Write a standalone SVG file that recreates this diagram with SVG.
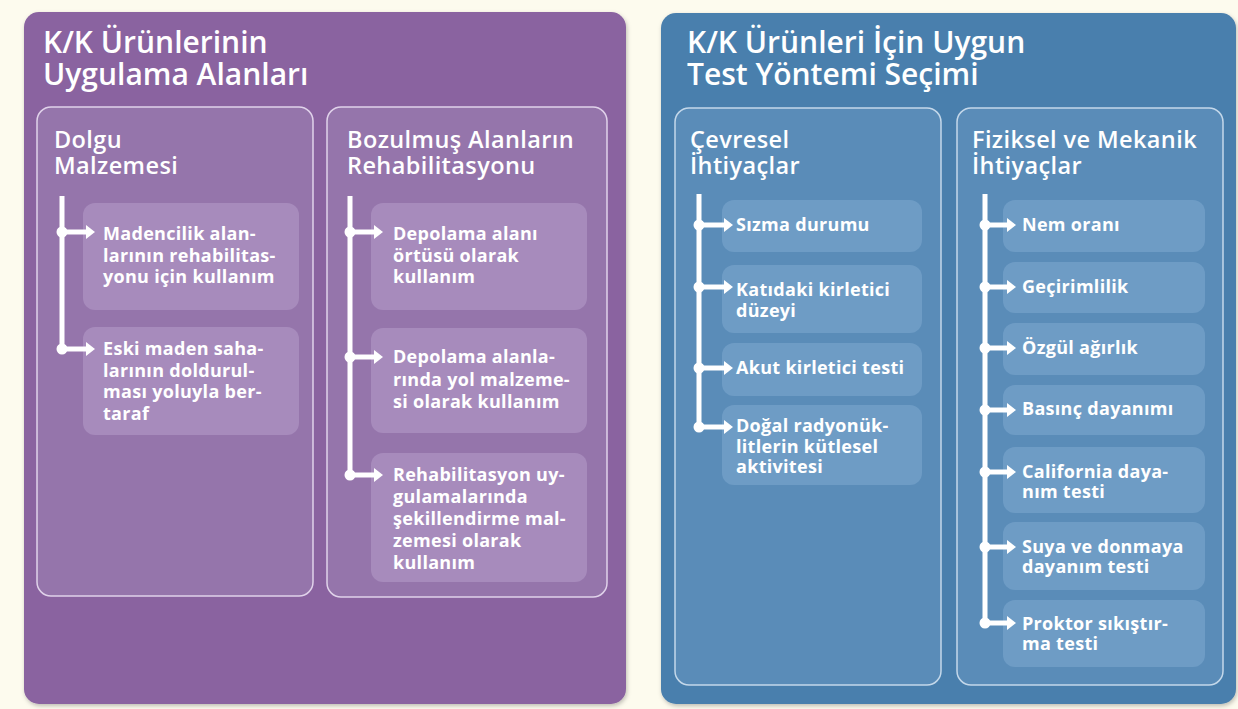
<svg xmlns="http://www.w3.org/2000/svg" width="1238" height="709" viewBox="0 0 1238 709">
<defs>
<style>
.bg{fill:#fdfbee}
.pL{fill:#8a63a0}
.pR{fill:#4a7fad}
.bL{fill:#9575ab;stroke:#e0d2ea;stroke-width:1.5}
.bR{fill:#5a8cb8;stroke:#c4d8ea;stroke-width:1.5}
.iL{fill:#a78bbc}
.iR{fill:#6e9cc5}
.t1{font-family:"Open Sans","DejaVu Sans",sans-serif;font-weight:600;font-size:30px;fill:#ffffff}
.t2{font-family:"Open Sans","DejaVu Sans",sans-serif;font-weight:600;font-size:23.5px;letter-spacing:0.4px;fill:#ffffff}
.t3{font-family:"Open Sans","DejaVu Sans",sans-serif;font-weight:700;font-size:18px;letter-spacing:0.3px;fill:#ffffff}
.vl{stroke:#ffffff;stroke-width:5;fill:none}
.ar{stroke:#ffffff;stroke-width:5;fill:none;marker-end:url(#head)}
.dot{fill:#ffffff}
</style>
<marker id="head" markerUnits="userSpaceOnUse" markerWidth="10" markerHeight="14" refX="0" refY="7" orient="auto">
<path d="M0,0 L9,7 L0,14 z" fill="#ffffff"/>
</marker>
<filter id="sh" x="-5%" y="-5%" width="110%" height="110%">
<feDropShadow dx="1" dy="2" stdDeviation="2" flood-color="#000" flood-opacity="0.25"/>
</filter>
</defs>
<rect class="bg" x="0" y="0" width="1238" height="709"/>

<g id="panel-left">
<rect class="pL" x="24" y="12" width="602" height="692" rx="15" filter="url(#sh)"/>
<text class="t1" x="43" y="53">K/K Ürünlerinin</text>
<text class="t1" x="43" y="85">Uygulama Alanları</text>
</g>
<g id="panel-right">
<rect class="pR" x="661" y="13" width="575" height="691" rx="15" filter="url(#sh)"/>
<text class="t1" x="687" y="53">K/K Ürünleri İçin Uygun</text>
<text class="t1" x="687" y="85">Test Yöntemi Seçimi</text>
</g>

<g id="box-dolgu">
<rect class="bL" x="37" y="107" width="276" height="489" rx="14"/>
<text class="t2" x="54" y="148">Dolgu</text>
<text class="t2" x="54" y="174">Malzemesi</text>
</g>
<g id="box-bozulmus">
<rect class="bL" x="327" y="107" width="280" height="490" rx="14"/>
<text class="t2" x="347" y="148">Bozulmuş Alanların</text>
<text class="t2" x="347" y="174">Rehabilitasyonu</text>
</g>
<g id="box-cevresel">
<rect class="bR" x="675" y="108" width="266" height="577" rx="14"/>
<text class="t2" x="690" y="148">Çevresel</text>
<text class="t2" x="690" y="174">İhtiyaçlar</text>
</g>
<g id="box-fiziksel">
<rect class="bR" x="957" y="108" width="266" height="577" rx="14"/>
<text class="t2" x="972" y="148">Fiziksel ve Mekanik</text>
<text class="t2" x="972" y="174">İhtiyaçlar</text>
</g>

<g id="item-madencilik">
<rect class="iL" x="83" y="203" width="216" height="107" rx="12"/>
<text class="t3" x="103" y="240"><tspan x="103">Madencilik alan-</tspan><tspan x="103" dy="21.5">larının rehabilitas-</tspan><tspan x="103" dy="21.5">yonu için kullanım</tspan></text>
</g>
<g id="item-eski">
<rect class="iL" x="83" y="327" width="216" height="108" rx="12"/>
<text class="t3" x="103" y="355"><tspan x="103">Eski maden saha-</tspan><tspan x="103" dy="21.7">larının doldurul-</tspan><tspan x="103" dy="21.7">ması yoluyla ber-</tspan><tspan x="103" dy="21.7">taraf</tspan></text>
</g>
<g id="item-depolama1">
<rect class="iL" x="371" y="203" width="216" height="107" rx="12"/>
<text class="t3" x="393" y="240"><tspan x="393">Depolama alanı</tspan><tspan x="393" dy="21.5">örtüsü olarak</tspan><tspan x="393" dy="21.5">kullanım</tspan></text>
</g>
<g id="item-depolama2">
<rect class="iL" x="371" y="328" width="216" height="105" rx="12"/>
<text class="t3" x="393" y="363"><tspan x="393">Depolama alanla-</tspan><tspan x="393" dy="22.5">rında yol malzeme-</tspan><tspan x="393" dy="22.5">si olarak kullanım</tspan></text>
</g>
<g id="item-rehab">
<rect class="iL" x="371" y="453" width="216" height="129" rx="12"/>
<text class="t3" x="393" y="481"><tspan x="393">Rehabilitasyon uy-</tspan><tspan x="393" dy="22">gulamalarında</tspan><tspan x="393" dy="22">şekillendirme mal-</tspan><tspan x="393" dy="22">zemesi olarak</tspan><tspan x="393" dy="22">kullanım</tspan></text>
</g>
<g id="item-sizma">
<rect class="iR" x="722" y="200" width="200" height="52" rx="12"/>
<text class="t3" x="736" y="231">Sızma durumu</text>
</g>
<g id="item-katidaki">
<rect class="iR" x="722" y="265" width="200" height="68" rx="12"/>
<text class="t3" x="736" y="296"><tspan x="736">Katıdaki kirletici</tspan><tspan x="736" dy="21">düzeyi</tspan></text>
</g>
<g id="item-akut">
<rect class="iR" x="722" y="343" width="200" height="53" rx="12"/>
<text class="t3" x="736" y="374">Akut kirletici testi</text>
</g>
<g id="item-dogal">
<rect class="iR" x="722" y="405" width="200" height="80" rx="12"/>
<text class="t3" x="736" y="432"><tspan x="736">Doğal radyonük-</tspan><tspan x="736" dy="20.5">litlerin kütlesel</tspan><tspan x="736" dy="20.5">aktivitesi</tspan></text>
</g>
<g id="item-nem">
<rect class="iR" x="1003" y="200" width="202" height="52" rx="12"/>
<text class="t3" x="1022" y="231">Nem oranı</text>
</g>
<g id="item-gecirimlilik">
<rect class="iR" x="1003" y="262" width="202" height="51" rx="12"/>
<text class="t3" x="1022" y="293">Geçirimlilik</text>
</g>
<g id="item-ozgul">
<rect class="iR" x="1003" y="323" width="202" height="52" rx="12"/>
<text class="t3" x="1022" y="354">Özgül ağırlık</text>
</g>
<g id="item-basinc">
<rect class="iR" x="1003" y="385" width="202" height="50" rx="12"/>
<text class="t3" x="1022" y="415">Basınç dayanımı</text>
</g>
<g id="item-california">
<rect class="iR" x="1003" y="447" width="202" height="66" rx="12"/>
<text class="t3" x="1022" y="478"><tspan x="1022">California daya-</tspan><tspan x="1022" dy="20">nım testi</tspan></text>
</g>
<g id="item-suya">
<rect class="iR" x="1003" y="522" width="202" height="68" rx="12"/>
<text class="t3" x="1022" y="553"><tspan x="1022">Suya ve donmaya</tspan><tspan x="1022" dy="20">dayanım testi</tspan></text>
</g>
<g id="item-proktor">
<rect class="iR" x="1003" y="600" width="202" height="67" rx="12"/>
<text class="t3" x="1022" y="630"><tspan x="1022">Proktor sıkıştır-</tspan><tspan x="1022" dy="20">ma testi</tspan></text>
</g>

<g id="connectors">
<path class="vl" d="M62,196 V349"/>
<circle class="dot" cx="62" cy="232" r="5.5"/><path class="ar" d="M62,232 H86"/>
<circle class="dot" cx="62" cy="349" r="5.5"/><path class="ar" d="M62,349 H86"/>
<path class="vl" d="M350,196 V475"/>
<circle class="dot" cx="350" cy="232" r="5.5"/><path class="ar" d="M350,232 H374"/>
<circle class="dot" cx="350" cy="357" r="5.5"/><path class="ar" d="M350,357 H374"/>
<circle class="dot" cx="350" cy="475" r="5.5"/><path class="ar" d="M350,475 H374"/>
<path class="vl" d="M699,194 V427"/>
<circle class="dot" cx="699" cy="225" r="5.5"/><path class="ar" d="M699,225 H724"/>
<circle class="dot" cx="699" cy="287" r="5.5"/><path class="ar" d="M699,287 H724"/>
<circle class="dot" cx="699" cy="368" r="5.5"/><path class="ar" d="M699,368 H724"/>
<circle class="dot" cx="699" cy="427" r="5.5"/><path class="ar" d="M699,427 H724"/>
<path class="vl" d="M985,194 V623"/>
<circle class="dot" cx="985" cy="225" r="5.5"/><path class="ar" d="M985,225 H1007"/>
<circle class="dot" cx="985" cy="287" r="5.5"/><path class="ar" d="M985,287 H1007"/>
<circle class="dot" cx="985" cy="348" r="5.5"/><path class="ar" d="M985,348 H1007"/>
<circle class="dot" cx="985" cy="410" r="5.5"/><path class="ar" d="M985,410 H1007"/>
<circle class="dot" cx="985" cy="472" r="5.5"/><path class="ar" d="M985,472 H1007"/>
<circle class="dot" cx="985" cy="547" r="5.5"/><path class="ar" d="M985,547 H1007"/>
<circle class="dot" cx="985" cy="623" r="5.5"/><path class="ar" d="M985,623 H1007"/>
</g>
</svg>
